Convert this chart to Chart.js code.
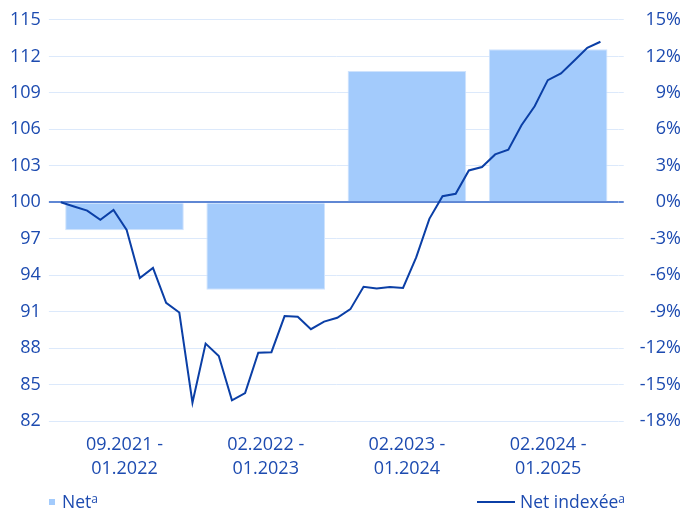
<!DOCTYPE html>
<html><head><meta charset="utf-8">
<script src="https://cdn.jsdelivr.net/npm/chart.js@4.4.1/dist/chart.umd.min.js"></script>
<style>
html,body{margin:0;padding:0;background:#fff;}
#wrap{position:relative;width:684px;height:509px;overflow:hidden;}
#c{position:absolute;left:0;top:0;width:684px;height:509px;}
.lg{position:absolute;font-family:'Open Sans';font-size:17.5px;color:#1d4bb0;line-height:20px;white-space:nowrap;}
.lg sup{font-size:12px;line-height:0;vertical-align:5px;}
.sq{display:inline-block;width:6px;height:6px;background:#a3cbfc;margin-right:7px;vertical-align:3px;}
.ln{display:inline-block;width:38px;height:2px;background:#0b3fa6;margin-right:5px;vertical-align:5px;}
</style></head><body>
<div id="wrap">
<canvas id="c" width="684" height="509"></canvas>
<div class="lg" style="left:49px;top:491px"><span class="sq"></span>Net<sup>a</sup></div>
<div class="lg" style="left:477px;top:491px"><span class="ln"></span>Net indexée<sup>a</sup></div>
</div>
<script>
const categories = [['09.2021 -','01.2022'],['02.2022 -','01.2023'],['02.2023 -','01.2024'],['02.2024 -','01.2025']];
const netPct = [-2.3, -7.2, 10.8, 12.6];
const indexed = [100.0, 99.66, 99.32, 98.56, 99.38, 97.73, 93.77, 94.60, 91.73, 90.93,
  83.51, 88.38, 87.36, 83.71, 84.31, 87.63, 87.67, 90.64, 90.58, 89.56,
  90.19, 90.50, 91.21, 93.05, 92.91, 93.03, 92.95, 95.47, 98.64, 100.50,
  100.70, 102.62, 102.90, 103.94, 104.33, 106.34, 107.90, 110.05, 110.60, 111.64,
  112.71, 113.21];
const leftTicks = [82, 85, 88, 91, 94, 97, 100, 103, 106, 109, 112, 115];
const rightTicks = [-18, -15, -12, -9, -6, -3, 0, 3, 6, 9, 12, 15];

const TXT = '#1d4bb0';
const GRID = '#dce9fb';
const ZERO = '#5f87d4';
const FONT = {family: 'Open Sans', size: 18, lineHeight: 1.33};

new Chart(document.getElementById('c'), {
  type: 'bar',
  data: {
    labels: categories,
    datasets: [
      {
        type: 'line', label: 'Net indexée', data: indexed.map((v, i) => ({x: i, y: v})),
        xAxisID: 'xL', yAxisID: 'y', borderColor: '#0b3fa6', borderWidth: 2,
        pointRadius: 0, tension: 0, fill: false, order: 0
      },
      {
        type: 'bar', label: 'Net', data: netPct, xAxisID: 'x', yAxisID: 'yR',
        backgroundColor: '#a3cbfc', borderColor: '#cfe3fd', borderWidth: 1,
        barPercentage: 0.84, categoryPercentage: 1.0, grouped: false, order: 1
      }
    ]
  },
  options: {
    responsive: false, animation: false, devicePixelRatio: 1,
    layout: {padding: {left: 2, right: 3, top: 5, bottom: 16}},
    plugins: {legend: {display: false}, tooltip: {enabled: false}},
    scales: {
      x: {
        type: 'category', offset: true,
        grid: {display: false, drawTicks: false},
        border: {display: false},
        ticks: {color: TXT, font: FONT, padding: 12, maxRotation: 0, autoSkip: false}
      },
      xL: {
        type: 'linear', display: false, offset: false, grid: {offset: false},
        min: -0.53, max: 42.39
      },
      y: {
        position: 'left', min: leftTicks[0], max: leftTicks[leftTicks.length - 1],
        afterBuildTicks: (s) => { s.ticks = leftTicks.map(v => ({value: v})); },
        border: {display: false},
        grid: {
          color: (c) => c.tick && c.tick.value === 100 ? ZERO : GRID,
          lineWidth: (c) => c.tick && c.tick.value === 100 ? 2 : 1,
          tickLength: 5, drawTicks: true
        },
        ticks: {color: TXT, font: FONT, padding: 8}
      },
      yR: {
        position: 'right', min: rightTicks[0], max: rightTicks[rightTicks.length - 1],
        afterBuildTicks: (s) => { s.ticks = rightTicks.map(v => ({value: v})); },
        border: {display: false},
        grid: {
          drawOnChartArea: false,
          color: (c) => c.tick && c.tick.value === 0 ? ZERO : GRID,
          lineWidth: (c) => c.tick && c.tick.value === 0 ? 2 : 1,
          tickLength: 5, drawTicks: true
        },
        ticks: {color: TXT, font: FONT, padding: 8, crossAlign: 'far', callback: (v) => v + '%'}
      }
    }
  }
});
</script>
</body></html>
